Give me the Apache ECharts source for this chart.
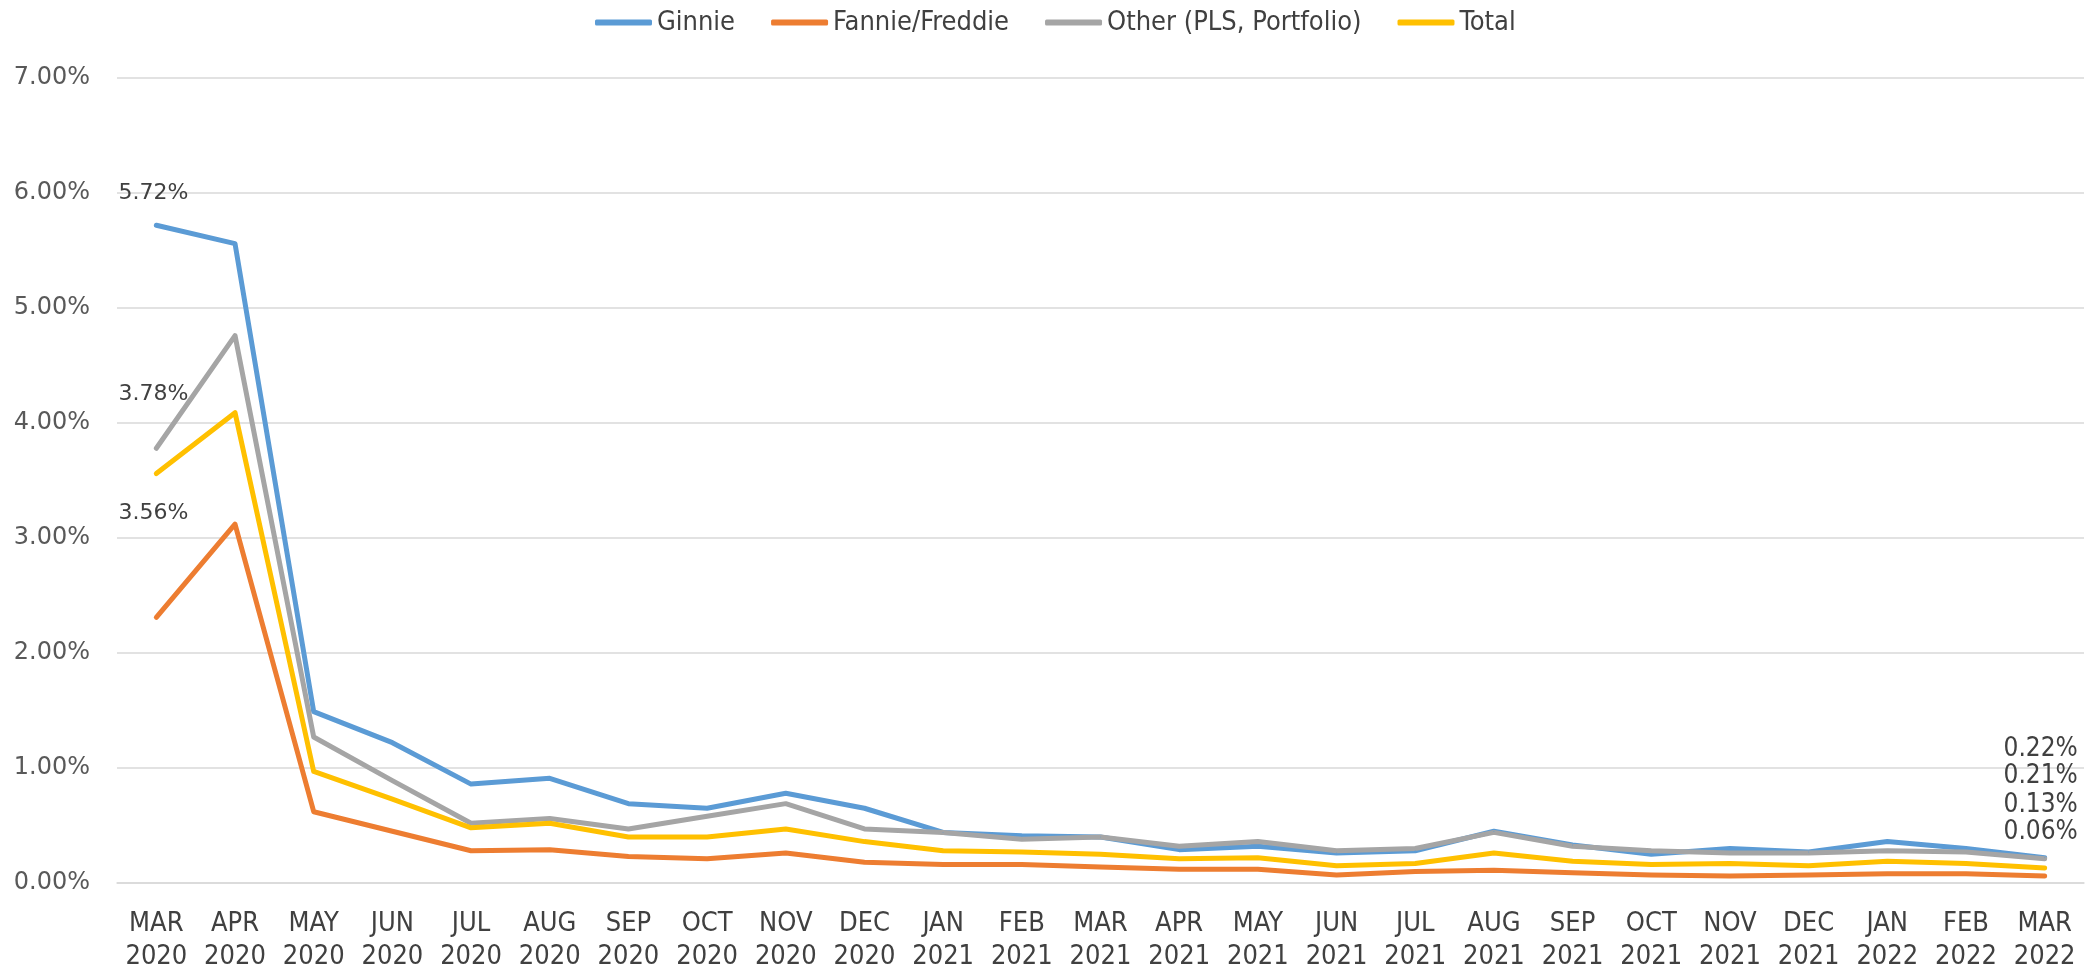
<!DOCTYPE html>
<html>
<head>
<meta charset="utf-8">
<script src="https://cdn.jsdelivr.net/npm/echarts@6/dist/echarts.min.js"></script>
<style>
  html, body { margin: 0; padding: 0; background: #fff; }
  #chart { width: 2097px; height: 970px; }
</style>
</head>
<body>
<div id="chart"></div>
<script>
// months, MAR 2020 .. MAR 2022
const months = [
  'MAR\n2020', 'APR\n2020', 'MAY\n2020', 'JUN\n2020', 'JUL\n2020', 'AUG\n2020', 'SEP\n2020',
  'OCT\n2020', 'NOV\n2020', 'DEC\n2020', 'JAN\n2021', 'FEB\n2021', 'MAR\n2021', 'APR\n2021',
  'MAY\n2021', 'JUN\n2021', 'JUL\n2021', 'AUG\n2021', 'SEP\n2021', 'OCT\n2021', 'NOV\n2021',
  'DEC\n2021', 'JAN\n2022', 'FEB\n2022', 'MAR\n2022'
]
const ginnie = [5.72, 5.56, 1.49, 1.22, 0.86, 0.91, 0.69, 0.65, 0.78, 0.65, 0.44, 0.41, 0.40,
  0.29, 0.32, 0.26, 0.28, 0.45, 0.33, 0.25, 0.30, 0.27, 0.36, 0.30, 0.22]
const fannieFreddie = [2.31, 3.12, 0.62, 0.45, 0.28, 0.29, 0.23, 0.21, 0.26, 0.18, 0.16, 0.16, 0.14,
  0.12, 0.12, 0.07, 0.10, 0.11, 0.09, 0.07, 0.06, 0.07, 0.08, 0.08, 0.06]
const other = [3.78, 4.76, 1.27, 0.89, 0.52, 0.56, 0.47, 0.58, 0.69, 0.47, 0.44, 0.38, 0.40,
  0.32, 0.36, 0.28, 0.30, 0.44, 0.32, 0.28, 0.26, 0.26, 0.28, 0.27, 0.21]
const total = [3.56, 4.09, 0.97, 0.73, 0.48, 0.52, 0.40, 0.40, 0.47, 0.36, 0.28, 0.27, 0.25,
  0.21, 0.22, 0.15, 0.17, 0.26, 0.19, 0.16, 0.17, 0.15, 0.19, 0.17, 0.13]
const yTicks = [0, 1, 2, 3, 4, 5, 6, 7]

const narrow = '"DejaVu Sans Condensed", "Liberation Sans Narrow", sans-serif'
const wide = '"DejaVu Sans", Verdana, sans-serif'
const last = months.length - 1

const startLabel = (dy) => ({
  show: true, position: 'inside', offset: [-3, dy],
  fontFamily: wide, fontSize: 22, color: '#404040',
  formatter: p => p.value.toFixed(2) + '%',
})
const endLabel = (dy) => ({
  show: true, position: 'inside', offset: [-4, dy],
  fontFamily: narrow, fontSize: 26, color: '#404040',
  formatter: p => p.value.toFixed(2) + '%',
})

function withLabels(values, labels) {
  return values.map((v, i) => labels[i] ? { value: v, label: labels[i] } : v)
}

function line(name, color, data) {
  return {
    name,
    type: 'line',
    data,
    symbol: 'circle',
    symbolSize: 1,
    showSymbol: true,
    lineStyle: { color, width: 5, cap: 'round', join: 'round' },
    itemStyle: { color },
    emphasis: { disabled: true },
  }
}

const chart = echarts.init(document.getElementById('chart'))
chart.setOption({
  animation: false,
  backgroundColor: '#fff',
  legend: {
    top: 4,
    left: 590,
    icon: 'roundRect',
    itemWidth: 57,
    itemHeight: 6,
    itemGap: 36,
    textStyle: { fontFamily: narrow, fontSize: 27, color: '#404040' },
    data: ['Ginnie', 'Fannie/Freddie', 'Other (PLS, Portfolio)', 'Total'],
  },
  grid: { left: 117, right: 13, top: 78, bottom: 87, containLabel: false, outerBoundsMode: 'none' },
  xAxis: {
    type: 'category',
    data: months,
    axisTick: { show: false },
    axisLine: { show: true, lineStyle: { color: '#d9d9d9', width: 1.5 } },
    axisLabel: {
      interval: 0, margin: 24, fontFamily: narrow, fontSize: 27, lineHeight: 33, color: '#404040',
    },
  },
  yAxis: {
    type: 'value',
    min: yTicks[0],
    max: yTicks[yTicks.length - 1],
    interval: 1,
    axisLine: { show: false },
    axisTick: { show: false },
    splitLine: { lineStyle: { color: '#d9d9d9', width: 1.5 } },
    axisLabel: {
      margin: 27, fontFamily: wide, fontSize: 24, color: '#595959',
      formatter: v => v.toFixed(2) + '%',
    },
  },
  series: [
    line('Ginnie', '#5b9bd5', withLabels(ginnie, { 0: startLabel(-32), [last]: endLabel(-108) })),
    line('Fannie/Freddie', '#ed7d31', withLabels(fannieFreddie, { [last]: endLabel(-44) })),
    line('Other (PLS, Portfolio)', '#a5a5a5', withLabels(other, { 0: startLabel(-54), [last]: endLabel(-83) })),
    line('Total', '#ffc000', withLabels(total, { 0: startLabel(40), [last]: endLabel(-63) })),
  ],
})
</script>
</body>
</html>
